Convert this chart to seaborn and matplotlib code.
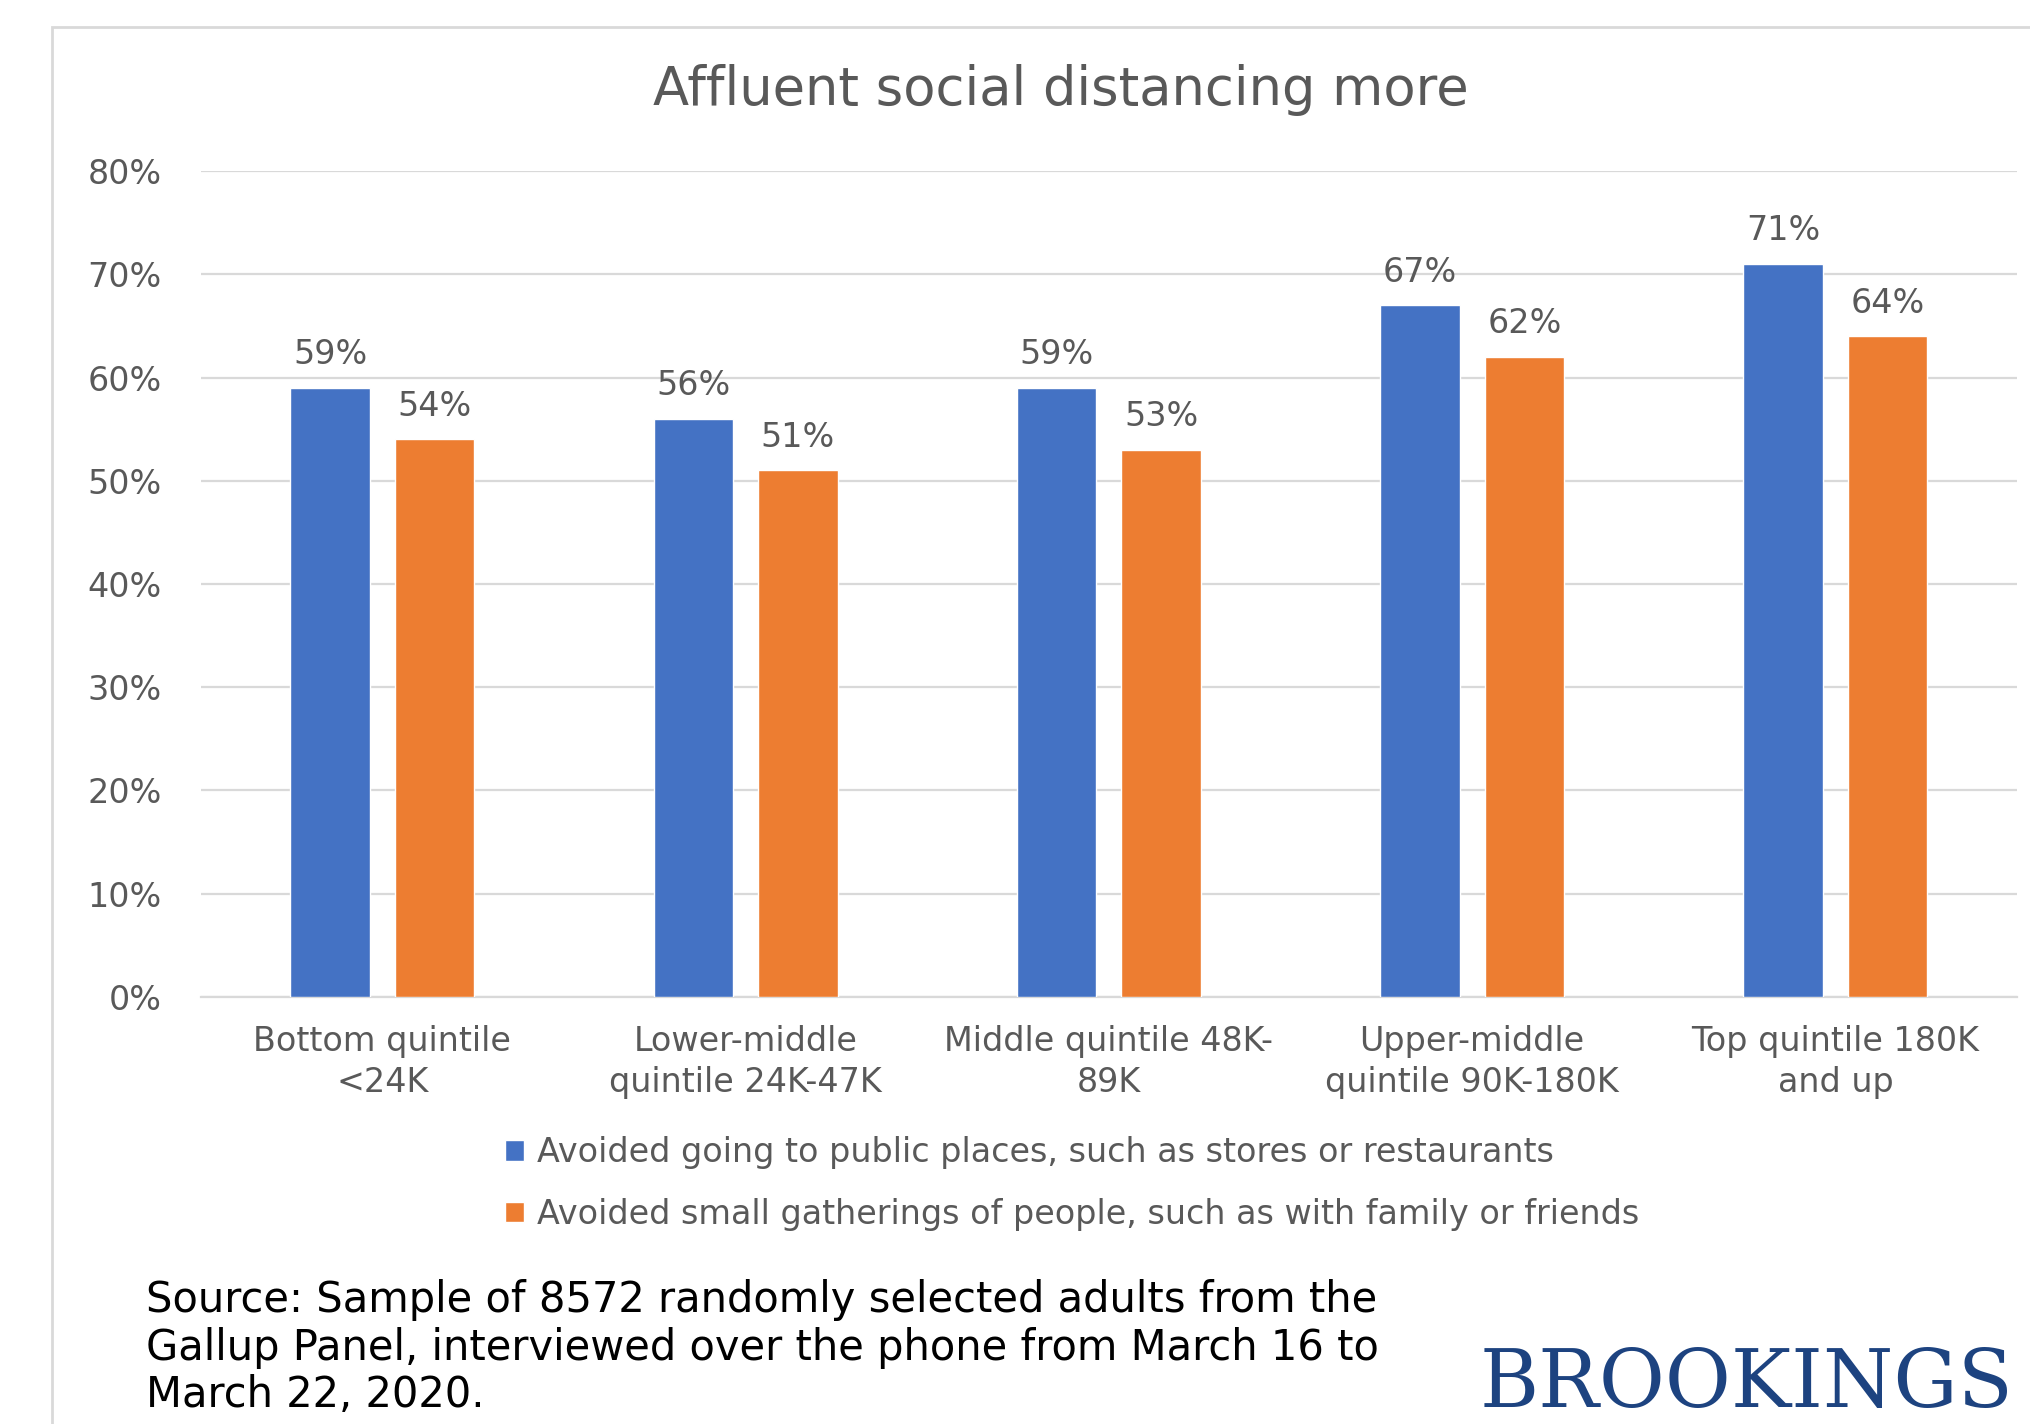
import pandas as pd
import matplotlib.pyplot as plt
import seaborn as sns
from matplotlib.patches import Rectangle
from matplotlib.ticker import PercentFormatter

# --- DATA ---
quintis = ["Bottom quintile\n<24K", "Lower-middle\nquintile 24K-47K", "Middle quintile 48K-\n89K",
           "Upper-middle\nquintile 90K-180K", "Top quintile 180K\nand up"]
evitou_lugares = [59, 56, 59, 67, 71]
evitou_encontros = [54, 51, 53, 62, 64]
series = ["Avoided going to public places, such as stores or restaurants",
          "Avoided small gatherings of people, such as with family or friends"]
cores = ["#4472C4", "#ED7D31"]

CINZA = "#595959"
GRADE = "#d9d9d9"

sns.set_style("white")
plt.rcParams['font.family'] = ['DejaVu Sans']

df = pd.DataFrame({
    "Quintil": quintis * 2,
    "Valor": evitou_lugares + evitou_encontros,
    "Serie": [series[0]] * len(quintis) + [series[1]] * len(quintis),
})

fig = plt.figure(figsize=(20.3, 14.24), dpi=100)
ax = fig.add_axes([0.0989, 0.2999, 0.8947, 0.58])

sns.barplot(data=df, x="Quintil", y="Valor", hue="Serie", palette=cores,
            width=0.576, gap=0.24, saturation=1, ax=ax, zorder=3)

ax.set_ylim(0, 80)
ax.set_xlim(-0.5, len(quintis) - 0.5)
ax.set_yticks(range(0, 81, 10))
ax.yaxis.set_major_formatter(PercentFormatter(decimals=0))
ax.grid(True, axis='y', color=GRADE, linewidth=1.6, zorder=0)
ax.grid(False, axis='x')
for lado in ['top', 'right', 'left']:
    ax.spines[lado].set_visible(False)
ax.spines['bottom'].set_color(GRADE)
ax.spines['bottom'].set_linewidth(1.6)
ax.set_xlabel('')
ax.set_ylabel('')
ax.tick_params(axis='y', length=0, pad=28, labelsize=24, labelcolor=CINZA)
ax.tick_params(axis='x', length=0, pad=20, labelsize=24, labelcolor=CINZA)
for t in ax.get_xticklabels():
    t.set_linespacing(1.3)

# rotulos em cima das barras
for c in ax.containers:
    ax.bar_label(c, fmt='%d%%', padding=12, fontsize=24, color=CINZA)

# legenda
handles, labels = ax.get_legend_handles_labels()
ax.legend(handles, labels, loc='upper left', bbox_to_anchor=(0.2488, 0.2022),
          bbox_transform=fig.transFigure, frameon=False, fontsize=24,
          labelcolor=CINZA, handlelength=0.58, handleheight=0.58,
          handletextpad=0.39, labelspacing=0.86, borderpad=0, borderaxespad=0)

# titulo
fig.text(0.5227, 0.9365, 'Affluent social distancing more', ha='center', va='center',
         fontsize=38, color=CINZA)

# moldura do grafico
fig.patches.append(Rectangle((52 / 2030, -0.1), 2, (1424 - 27) / 1424 + 0.1,
                             transform=fig.transFigure, fill=False,
                             edgecolor=GRADE, linewidth=2))

# fonte
fig.text(146 / 2030, 0.1017,
         "Source: Sample of 8572 randomly selected adults from the\n"
         "Gallup Panel, interviewed over the phone from March 16 to\n"
         "March 22, 2020.",
         ha='left', va='top', fontsize=30, color='black', linespacing=1.17)

fig.text(1480 / 2030, 0.0, 'BROOKINGS', ha='left', va='bottom',
         fontsize=58, color='#1d4380', family=['DejaVu Serif'])

plt.savefig("out.png", dpi=100)
plt.close()
